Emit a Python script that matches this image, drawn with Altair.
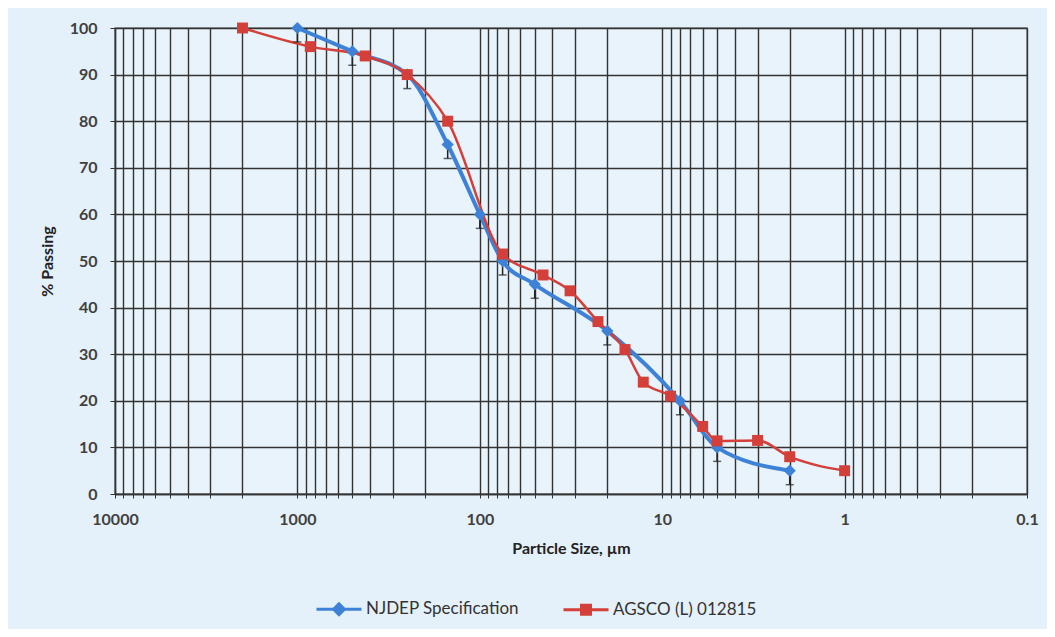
import altair as alt
import pandas as pd

# ---- data ----
njdep_size = [1000, 500, 250, 150, 100, 75, 50, 20, 8, 5, 2]
njdep_pct = [100, 95, 90, 75, 60, 50, 45, 35, 20, 10, 5]
njdep_err = [3, 3, 3, 3, 3, 3, 3, 3, 3, 3, 3]

agsco_size = [2000, 850, 425, 250, 150, 75, 45, 32, 22.5, 16, 12.7, 9, 6, 5, 3, 2, 1]
agsco_pct = [100, 96, 94, 90, 80, 51.5, 47, 43.6, 37, 31, 24, 21, 14.5, 11.4, 11.5, 8, 5]

series_names = ["NJDEP Specification", "AGSCO (L) 012815"]
series_colors = ["#3d82d6", "#d43f3a"]
x_tick_labels = ["10000", "1000", "100", "10", "1", "0.1"]
y_ticks = [0, 10, 20, 30, 40, 50, 60, 70, 80, 90, 100]
x_grid = [m * 10 ** e for e in range(-1, 4) for m in range(1, 10)] + [10000]

blue = pd.DataFrame({"size": njdep_size, "pct": njdep_pct,
                     "low": [p - e for p, e in zip(njdep_pct, njdep_err)],
                     "idx": list(range(len(njdep_size)))})
red = pd.DataFrame({"size": agsco_size, "pct": agsco_pct,
                    "idx": list(range(len(agsco_size)))})
leg = pd.DataFrame({"size": [1, 1], "pct": [0, 0], "series": series_names})

font = "Lato"
label_expr = ("abs(log(datum.value)/LN10 - round(log(datum.value)/LN10)) < 0.001 ? "
              "(datum.value < 1 ? '" + x_tick_labels[-1] + "' : format(datum.value, 'd')) : ''")

xenc = alt.X("size:Q",
             scale=alt.Scale(type="log", domain=[0.1, 10000], reverse=True, nice=False),
             axis=alt.Axis(values=x_grid, labelExpr=label_expr, title="Particle Size, µm",
                           grid=True, tickSize=4, labelPadding=13, titlePadding=13,
                           labelFlush=False))
yenc = alt.Y("pct:Q", scale=alt.Scale(domain=[0, 100], nice=False),
             axis=alt.Axis(values=y_ticks, title="% Passing", grid=True, tickSize=5,
                           labelPadding=13, titlePadding=14))

line_blue = alt.Chart(blue).mark_line(color=series_colors[0], strokeWidth=4,
                                      interpolate="monotone").encode(
    x=xenc, y=yenc, order="idx:Q")
line_red = alt.Chart(red).mark_line(color=series_colors[1], strokeWidth=2.5,
                                    interpolate="monotone").encode(
    x="size:Q", y="pct:Q", order="idx:Q")

err_rule = alt.Chart(blue).mark_rule(color="#222222", strokeWidth=1.5).encode(
    x="size:Q", y="pct:Q", y2="low:Q")
err_cap = alt.Chart(blue).mark_tick(color="#222222", orient="horizontal", size=8,
                                    thickness=1.5).encode(x="size:Q", y="low:Q")

pts_blue = alt.Chart(blue).mark_point(filled=True, opacity=1, shape="diamond", size=150,
                                      color=series_colors[0]).encode(x="size:Q", y="pct:Q")
pts_red = alt.Chart(red).mark_point(filled=True, opacity=1, shape="square", size=120,
                                    color=series_colors[1]).encode(x="size:Q", y="pct:Q")

path_diamond = "M-1,0H1M0,-0.24L0.24,0L0,0.24L-0.24,0Z"
path_square = "M-1,0H1M-0.2,-0.2H0.2V0.2H-0.2Z"
legend_def = alt.Legend(title=None, orient="none", direction="horizontal",
                        legendX=200, legendY=557, columnPadding=38, labelOffset=3,
                        symbolSize=2025, symbolStrokeWidth=3, symbolOpacity=1,
                        labelFont=font, labelFontSize=17, labelColor="#333333")
legend_layer = alt.Chart(leg).mark_point(filled=True, size=2025, strokeWidth=3).encode(
    x="size:Q", y="pct:Q",
    shape=alt.Shape("series:N", scale=alt.Scale(domain=series_names,
                                                range=[path_diamond, path_square]),
                    legend=legend_def),
    fill=alt.Fill("series:N", scale=alt.Scale(domain=series_names, range=series_colors),
                  legend=legend_def),
    stroke=alt.Stroke("series:N", scale=alt.Scale(domain=series_names, range=series_colors),
                      legend=legend_def),
).transform_filter("false")

chart = alt.layer(line_blue, line_red, err_rule, err_cap, pts_blue, pts_red,
                  legend_layer).properties(
    width=912, height=466,
    autosize=alt.AutoSizeParams(type="none"),
    padding={"left": 107, "top": 20, "right": 20, "bottom": 135},
    background="#e4f0fa",
).configure_view(
    fill="#e8f3fb", stroke="#808080", strokeWidth=1.5
).configure_axis(
    gridColor="#333333", gridWidth=1.4, gridOpacity=1,
    domainColor="#333333", tickColor="#333333", domainWidth=1.4,
    labelFont=font, labelFontSize=16, labelFontWeight="bold", labelColor="#404040",
    titleFont=font, titleFontSize=16, titleFontWeight="bold", titleColor="#222222",
)

chart.save("out.html", embed_options={"renderer": "svg", "actions": False})
